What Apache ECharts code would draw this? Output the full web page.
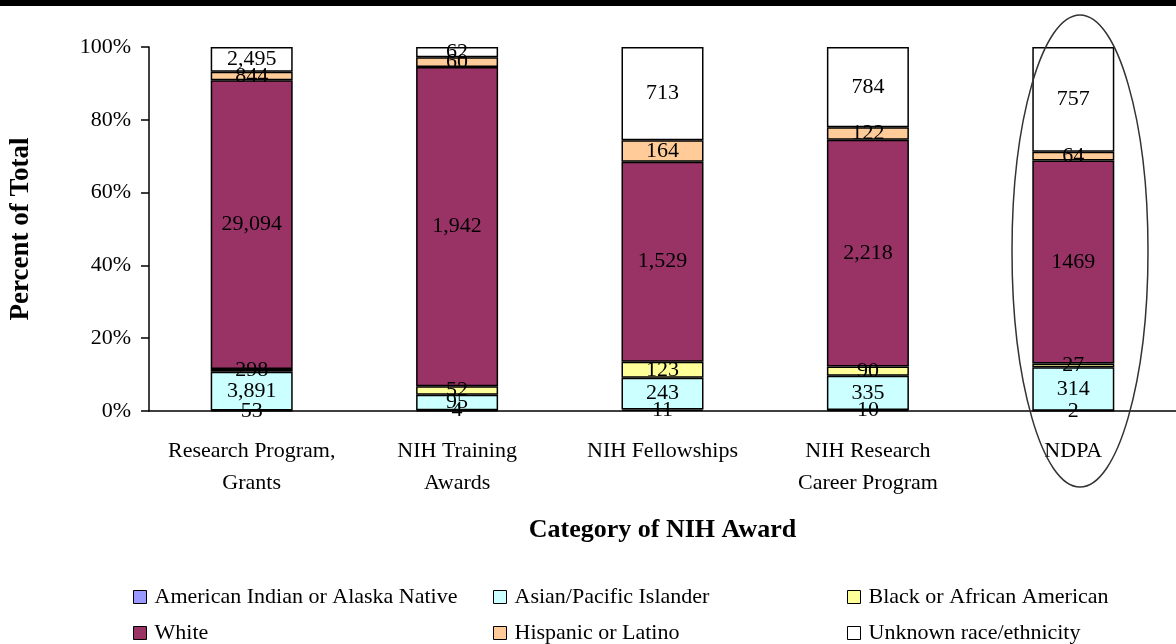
<!DOCTYPE html>
<html>
<head>
    <meta charset="utf-8">
    <title>NIH Awards by race/ethnicity</title>
    <style>
        html, body { margin: 0; padding: 0; background: #fff; }
        #chart { width: 1176px; height: 644px; }
    </style>
</head>
<body>
    <div id="chart"></div>
    <script src="https://cdn.jsdelivr.net/npm/echarts@6/dist/echarts.min.js"></script>
    <script type="text/javascript">
        // categories and counts
        var categories = ['Research Program,\nGrants', 'NIH Training\nAwards', 'NIH Fellowships', 'NIH Research\nCareer Program', 'NDPA'];
        var seriesNames = ['American Indian or Alaska Native', 'Asian/Pacific Islander', 'Black or African American', 'White', 'Hispanic or Latino', 'Unknown race/ethnicity'];
        var amIndian = [53, 4, 11, 10, 2];
        var asian = [3891, 95, 243, 335, 314];
        var black = [298, 52, 123, 90, 27];
        var white = [29094, 1942, 1529, 2218, 1469];
        var hispanic = [844, 60, 164, 122, 64];
        var unknown = [2495, 62, 713, 784, 757];
        var colors = ['#9999FF', '#CCFFFF', '#FFFF99', '#993366', '#FFCC99', '#FFFFFF'];
        var yTicks = [0, 20, 40, 60, 80, 100];

        var groups = [amIndian, asian, black, white, hispanic, unknown];
        var totals = categories.map(function (c, i) {
            var s = 0;
            groups.forEach(function (g) { s += g[i]; });
            return s;
        });

        var font = 'Liberation Serif';
        var series = groups.map(function (g, k) {
            return {
                name: seriesNames[k],
                type: 'bar',
                stack: 'all',
                barWidth: 82,
                itemStyle: { color: colors[k], borderColor: '#000', borderWidth: 1.5 },
                label: {
                    show: true,
                    position: 'inside',
                    color: '#000',
                    fontFamily: font,
                    fontSize: 22,
                    formatter: function (p) {
                        var v = g[p.dataIndex];
                        // the NDPA column was labelled without thousands separator
                        return p.dataIndex === 4 ? String(v) : v.toLocaleString('en-US');
                    }
                },
                data: g.map(function (v, i) { return v / totals[i] * 100; })
            };
        });

        // legend laid out as 3 columns x 2 rows
        var legendPos = [[133, 586], [493, 586], [847, 586], [133, 622], [493, 622], [847, 622]];
        var legends = seriesNames.map(function (n, k) {
            return {
                data: [n],
                left: legendPos[k][0],
                top: legendPos[k][1],
                icon: 'rect',
                itemWidth: 13,
                itemHeight: 13,
                itemGap: 4,
                padding: 0,
                selectedMode: false,
                itemStyle: { borderColor: '#000', borderWidth: 1 },
                textStyle: { fontFamily: font, fontSize: 22, color: '#000', padding: [0, 0, 0, 3] }
            };
        });

        var chart = echarts.init(document.getElementById('chart'));
        chart.setOption({
            animation: false,
            legend: legends,
            grid: { left: 149, top: 47, width: 1045, bottom: 233, containLabel: false },
            xAxis: {
                type: 'category',
                data: categories,
                name: 'Category of NIH Award',
                nameLocation: 'middle',
                nameGap: 106,
                nameTextStyle: { fontFamily: font, fontSize: 26, fontWeight: 'bold', color: '#000' },
                axisLine: { lineStyle: { color: '#000', width: 1.5 } },
                axisTick: { show: false },
                axisLabel: { interval: 0, fontFamily: font, fontSize: 22, color: '#000', lineHeight: 32, margin: 24 }
            },
            yAxis: {
                type: 'value',
                min: yTicks[0],
                max: yTicks[yTicks.length - 1],
                interval: 20,
                name: 'Percent of Total',
                nameLocation: 'middle',
                nameGap: 114,
                nameTextStyle: { fontFamily: font, fontSize: 27, fontWeight: 'bold', color: '#000' },
                axisLine: { show: true, lineStyle: { color: '#000', width: 1.5 } },
                axisTick: { show: true, length: 8, lineStyle: { color: '#000', width: 1.5 } },
                splitLine: { show: false },
                axisLabel: { fontFamily: font, fontSize: 22, color: '#000', margin: 18, formatter: '{value}%' }
            },
            graphic: [
                { type: 'rect', shape: { x: 0, y: 0, width: 1176, height: 6 }, style: { fill: '#000' } },
                { type: 'ellipse', shape: { cx: 1080, cy: 251, rx: 68, ry: 236 }, style: { fill: 'none', stroke: '#333', lineWidth: 1.5 }, z: 10 }
            ],
            series: series
        });
    </script>
</body>
</html>
